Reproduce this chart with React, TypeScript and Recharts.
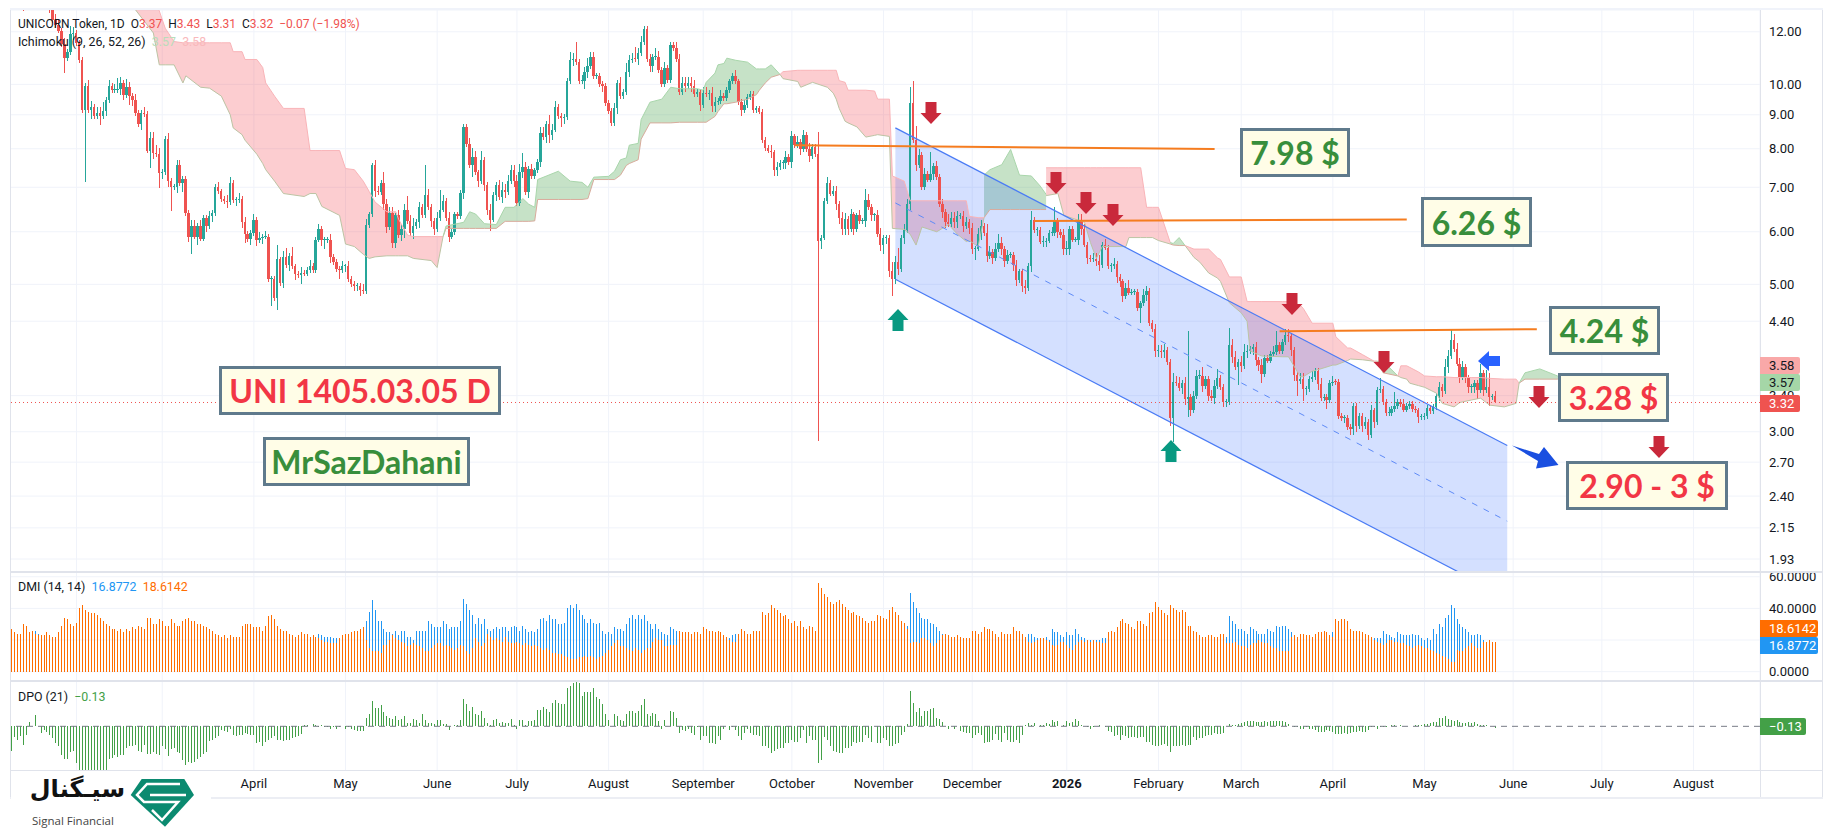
import React from "react";
import { ComposedChart, Bar, Line, Area, Cell, XAxis, YAxis, CartesianGrid, ReferenceLine } from "recharts";

// daily closes, open of a bar is the close before it
const closes = [
  15.2,14.9,15.4,14.7,14,13.8,14.3,14.9,15.3,14.8,
  14.4,14.1,13.9,13.6,12.5,12.3,12.05,11.5,10.95,11.2,
  11.9,11.95,11.55,10.87,9.15,9.95,9.15,9.25,8.95,9.05,
  8.97,9.13,9.47,9.95,9.8,9.8,9.83,10.05,9.65,9.9,
  9.6,9.47,9.05,8.72,9.05,9.03,7.95,8.3,7.87,7.85,
  7.35,7.38,8.27,7.15,7,7,7.55,7.1,7.2,6.4,
  5.9,6.12,5.9,6.12,5.86,6.3,6.12,6.33,6.4,7,
  6.9,6.72,6.68,6.65,7.1,6.7,6.7,6.73,6.2,5.95,
  5.85,5.97,6.26,5.83,5.87,5.9,5.9,5.1,5.1,4.77,
  5.45,5.03,5.5,5.35,5.52,5.32,5.18,5.16,5.2,5.19,
  5.25,5.33,5.26,5.84,6.05,5.83,5.83,5.83,5.5,5.4,
  5.28,5.25,5.32,5.32,5.09,5,4.98,4.98,4.9,4.88,
  6.15,6.37,7.55,6.9,6.88,7.1,6.6,6.1,6.4,5.78,
  6.35,5.93,6.05,6.47,6.23,5.97,6.12,6.2,6.53,6.35,
  6.82,6.53,6.23,6.05,6.3,6.48,6.67,6.3,5.9,6,
  6.37,6.33,6.87,8.63,8.14,7.55,7.78,7.37,7.15,7.7,
  7.05,6.48,6.26,6.82,7.05,6.77,6.93,6.88,7.15,7.42,
  7.15,6.62,7.37,7.5,6.88,7.45,7.28,7.42,7.65,8.45,
  8.32,8.72,8.4,8.55,9.25,8.95,8.9,8.93,10.13,10.87,
  10.93,10.82,10.13,10.13,10.42,10.65,10.98,10.3,10.3,10,
  9.95,9.38,9.12,8.75,9.2,10.05,9.6,9.75,10.45,10.87,
  10.93,10.9,11.13,11.58,12.1,10.9,10.66,11,11,10.5,
  10,10.6,10.15,11.45,11.35,10.9,9.75,10.05,9.95,10.05,
  9.95,9.68,9.75,9.3,9.7,9.68,9.7,9.28,9.4,9.45,
  9.62,9.55,9.8,10.1,10.3,10.1,9.4,9.15,9.3,9.58,
  9.68,9.15,9.2,9.1,8.24,8.02,7.95,7.9,7.44,7.5,
  7.62,7.62,7.77,7.63,8.35,8.1,8.2,8,8.38,8,
  7.8,8.05,7.85,5.82,5.88,6.67,7.1,6.85,6.9,6.6,
  6.3,6.05,6.28,6.05,6.37,6.06,6.35,6.23,6.23,6.7,
  6.53,6.35,6.35,5.95,5.73,5.87,5.88,5.24,5.1,5.4,
  5.27,5.87,6.04,6.6,9.36,8.24,7.55,7.83,7,7.33,
  7.19,7.33,7.53,7.25,6.6,6.43,6.2,6.16,6.3,6.2,
  6.33,6.33,6.12,6.2,6.07,5.66,5.66,5.95,6.13,5.98,
  5.52,5.6,5.47,5.65,5.77,5.65,5.42,5.53,5.53,5.34,
  5.08,5.23,4.97,4.94,5.33,6.26,6.04,6.04,5.8,5.8,
  5.82,5.98,5.98,6.23,6,5.93,5.65,5.65,6.06,5.84,
  5.84,6.26,6.05,5.74,5.48,5.46,5.46,5.43,5.35,5.73,
  5.68,5.33,5.33,5.37,5.13,5.05,4.8,4.93,4.86,4.87,
  4.87,4.6,4.68,4.82,4.88,4.37,4.28,3.97,3.97,3.95,
  3.98,3.82,3.15,3.57,3.55,3.49,3.55,3.36,3.38,3.23,
  3.39,3.64,3.64,3.51,3.6,3.4,3.37,3.52,3.62,3.5,
  3.33,3.33,4.05,3.89,3.75,3.82,3.77,3.95,3.97,4,
  4.02,3.85,3.78,3.66,3.88,3.84,3.93,3.96,4.05,3.97,
  4.1,4.2,4.18,3.98,3.65,3.58,3.6,3.48,3.48,3.6,
  3.63,3.7,3.54,3.37,3.38,3.35,3.55,3.57,3.56,3.17,
  3.15,3.15,3.05,3.03,3.28,3.06,3.17,3.06,3.1,2.97,
  3.23,3.1,3.47,3.48,3.33,3.2,3.2,3.25,3.28,3.33,
  3.3,3.24,3.28,3.3,3.25,3.23,3.16,3.16,3.17,3.26,
  3.22,3.27,3.4,3.5,3.45,3.75,3.9,4.12,4,3.8,
  3.63,3.76,3.62,3.5,3.5,3.55,3.47,3.68,3.47,3.5,
  3.38,3.39,3.32,
];

// wick length above / below the body, percent of price
const upperWicks = [
  3,2,4,2,3,4,2,3,2,4,3,2,3,4,2,2,2,1,2,1,
  3,2,1,1,1,1,2,2,1,2,2,3,1,2,1,2,4,2,1,3,
  2,1,2,1,1,2,1,2,2,3,2,1,1,2,1,1,2,2,1,1,
  1,2,2,1,2,1,1,2,1,1,2,1,1,2,2,1,1,2,1,2,
  1,1,2,1,2,1,2,1,1,1,5,1,2,3,1,3,1,1,2,1,
  1,2,1,1,2,1,1,1,2,1,1,1,2,1,2,1,1,1,1,2,
  2,1,1,2,2,1,4,2,2,2,1,2,2,2,5,2,3,1,2,1,
  11,2,1,1,2,7,2,1,2,1,1,1,1,1,1,2,3,2,1,3,
  1,1,2,1,1,2,3,2,2,2,2,2,3,5,2,1,2,1,1,2,
  2,1,3,2,2,1,1,1,1,3,2,6,1,2,2,3,2,2,1,1,
  1,1,1,1,2,1,2,1,3,2,2,4,2,2,1,1,2,1,3,2,
  1,2,1,1,1,2,2,2,2,2,2,2,1,1,2,2,1,2,2,1,
  2,1,1,1,1,2,1,1,2,1,1,1,1,1,1,1,1,2,1,2,
  1,1,2,1,2,1,2,1,2,1,2,1,1,8,1,1,2,1,2,2,
  1,2,2,1,2,1,1,2,1,4,2,1,1,2,2,1,1,1,3,2,
  5,1,2,2,6,8,5,2,1,2,1,8,1,2,1,2,1,3,2,2,
  2,1,2,2,1,2,1,2,2,1,3,2,1,2,3,2,1,2,1,1,
  2,1,1,2,1,3,1,1,1,2,1,1,2,5,1,1,2,3,1,1,
  1,2,2,2,1,1,2,2,2,1,2,1,1,2,1,1,1,2,3,1,
  1,1,1,2,2,1,1,2,2,2,2,1,1,3,2,2,1,2,26,1,
  2,2,2,3,1,1,2,2,3,1,1,1,6,2,2,1,2,3,2,1,
  1,2,1,2,1,1,1,2,5,1,1,2,2,1,1,1,2,2,1,1,
  2,1,1,2,1,1,1,2,1,1,1,1,1,1,1,1,1,1,2,1,
  2,1,1,4,1,1,2,1,5,1,1,2,1,1,1,1,1,1,1,1,
  1,1,1,2,1,3,2,4,2,2,2,2,1,1,1,1,1,3,1,6,
  5,1,2,
];
const lowerWicks = [
  15,2,2,3,8,2,2,3,2,2,2,3,2,6,1,1,1,1,5,1,
  1,2,1,1,1,22,1,3,1,1,3,1,2,1,1,1,1,2,2,1,
  3,2,1,1,2,1,1,6,2,1,5,2,1,2,8,1,2,1,3,1,
  2,6,1,3,1,1,2,1,2,1,1,1,1,2,1,1,2,1,2,3,
  1,2,1,2,1,2,1,1,9,1,4,1,2,1,2,1,2,1,3,1,
  1,1,1,1,1,2,3,1,2,1,1,3,1,2,1,1,2,2,2,1,
  1,1,1,2,1,1,2,2,1,2,2,1,2,3,1,1,2,1,2,1,
  1,1,2,2,1,1,1,1,2,1,1,1,1,2,1,1,4,1,2,1,
  2,2,4,1,2,1,2,2,1,1,2,1,1,2,1,2,1,1,1,2,
  1,2,3,2,1,1,3,2,1,1,2,1,1,1,3,2,1,1,1,1,
  2,1,1,1,1,2,1,1,1,2,1,1,2,1,1,1,2,2,1,1,
  1,1,1,1,1,1,1,1,2,1,2,1,1,2,1,1,2,2,2,1,
  1,1,1,1,1,1,1,2,1,1,1,1,1,1,1,1,1,2,2,2,
  1,2,2,1,2,1,1,2,1,1,2,1,1,50,3,1,1,1,1,2,
  2,2,2,2,1,2,1,1,1,2,1,2,2,1,2,3,2,2,6,2,
  2,1,2,1,2,1,2,1,1,1,1,1,2,1,1,2,2,1,1,2,
  2,1,2,1,2,2,4,1,2,1,2,1,2,1,1,2,2,1,1,2,
  2,1,2,2,1,2,1,2,1,2,2,1,1,1,2,1,2,2,2,1,
  1,2,2,1,2,1,1,2,2,1,1,1,2,1,2,2,2,1,1,1,
  1,1,5,1,2,1,1,2,2,2,2,1,3,8,1,1,2,2,6,2,
  1,1,1,2,1,2,1,2,1,1,2,2,1,2,1,6,2,1,2,1,
  2,2,2,3,1,1,1,1,1,1,1,1,2,2,2,5,1,4,2,1,
  1,1,2,1,1,3,1,1,1,1,1,2,1,2,2,2,1,2,1,2,
  1,2,1,1,1,1,1,1,1,1,1,1,1,1,1,1,2,1,1,1,
  1,1,1,2,2,1,2,1,1,1,2,1,2,2,2,2,3,1,2,1,
  3,1,0.3,
];

const minusDI = [
  27,25,24,24,30,29,25,26,24,23,23,23,25,23,22,22,25,29,34,33,
  30,29,31,40,42,39,38,37,37,36,34,32,30,29,27,27,26,27,25,27,
  26,28,27,29,28,27,34,34,30,30,33,32,29,29,33,31,29,29,32,33,
  34,32,32,30,30,29,28,27,26,24,23,22,23,21,23,22,22,22,29,30,
  30,30,28,28,28,26,29,35,36,33,29,27,26,26,24,23,22,23,25,24,
  24,22,23,22,21,20,19,19,18,18,18,21,23,24,24,25,26,26,27,28,
  20,15,13,13,13,12,17,17,20,23,21,20,19,18,16,17,18,17,16,15,
  13,13,15,17,18,18,16,17,16,15,14,15,17,16,13,11,15,21,19,16,
  18,24,22,20,21,20,19,22,19,18,18,19,18,17,18,17,16,17,16,15,
  14,15,14,12,12,11,11,10,9,8,8,8,9,9,10,9,10,9,8,9,
  10,12,14,16,18,20,16,16,15,14,13,15,14,12,14,15,15,19,21,20,
  20,16,16,17,17,17,26,25,25,25,24,25,25,24,28,27,26,26,25,26,
  25,23,22,20,19,19,24,27,26,24,24,26,26,26,38,36,37,42,40,39,
  37,35,36,33,31,32,29,32,28,27,29,28,26,56,53,49,47,44,43,44,
  45,43,41,39,37,38,36,35,34,32,31,32,32,36,35,34,33,39,41,38,
  36,32,31,27,18,19,19,18,21,21,20,18,16,18,20,23,24,23,22,22,
  23,22,21,21,21,26,26,24,25,28,27,27,26,24,22,25,24,24,24,28,
  26,26,24,22,19,18,19,20,21,21,20,19,17,16,17,19,19,17,15,14,
  17,19,20,19,20,19,20,19,19,18,18,25,26,25,28,32,33,31,30,28,
  27,32,32,30,29,37,38,44,41,39,37,36,42,40,39,38,39,38,29,29,
  26,25,23,22,22,23,23,22,22,24,24,18,18,18,19,17,16,16,15,17,
  18,18,20,19,18,18,16,15,15,13,13,13,13,22,23,22,24,24,23,23,
  22,24,25,25,26,25,23,22,33,32,33,33,32,27,26,26,26,25,24,23,
  22,20,19,18,17,18,20,20,19,19,18,18,17,16,15,16,17,16,15,15,
  14,13,12,11,10,9,8,6,6,14,13,13,15,16,18,16,15,15,19,19,
  20,19,18.61,
];
const plusDI = [
  18,18,19,20,22,23,22,24,26,24,22,21,20,21,20,19,20,21,20,19,
  19,18,17,17,16,16,15,15,15,14,14,14,13,13,14,15,14,15,14,14,
  14,15,15,16,15,15,14,14,15,14,14,14,15,16,14,14,15,15,14,13,
  14,14,15,15,15,16,16,17,17,18,18,19,19,20,19,20,20,20,17,17,
  17,17,17,18,18,19,18,16,15,15,16,17,18,18,19,19,20,20,20,20,
  20,20,21,20,24,23,22,22,22,21,21,21,22,20,20,20,21,21,21,24,
  32,38,45,39,32,32,27,25,25,24,26,23,26,26,22,22,20,26,26,26,
  26,32,30,28,28,28,32,30,27,28,28,28,32,46,43,39,36,30,34,30,
  33,27,26,27,28,27,28,28,26,28,29,28,26,29,27,25,26,25,27,33,
  34,32,36,33,33,30,30,31,40,42,40,43,39,36,33,31,33,31,30,31,
  26,24,25,24,28,27,27,26,30,34,36,33,36,33,36,32,30,27,30,27,
  25,24,23,28,27,26,22,22,22,21,21,21,20,20,21,20,19,20,20,19,
  20,19,19,21,23,24,22,20,20,20,19,19,19,19,15,15,14,14,13,13,
  13,13,12,12,12,12,12,12,13,13,13,14,14,12,12,12,13,13,14,14,
  14,14,15,15,15,15,15,14,14,14,15,15,15,16,16,16,16,14,14,14,
  14,15,16,29,50,44,40,37,34,33,33,31,30,28,26,24,22,21,21,20,
  20,20,19,19,19,19,18,18,18,19,19,18,18,18,19,18,18,18,19,18,
  18,17,17,17,24,24,22,21,20,21,22,20,27,25,25,23,22,25,23,23,
  27,24,22,21,20,20,20,20,20,21,21,19,19,19,20,20,20,20,19,19,
  18,18,18,18,17,17,17,16,17,17,17,16,17,17,17,17,17,17,18,18,
  19,19,19,20,20,20,20,21,21,21,22,22,35,32,30,27,27,26,24,28,
  27,26,24,24,24,27,26,25,29,28,29,29,27,25,20,20,21,21,21,22,
  22,22,22,22,22,22,22,25,21,21,21,22,22,22,22,22,22,22,21,21,
  21,21,21,21,26,24,23,22,21,25,24,23,23,23,24,23,23,21,20,21,
  20,27,24,30,28,34,36,42,40,33,30,28,27,25,23,23,24,23,20,19,
  18,17,16.88,
];

const dpo = [
  -2.2,-1,-1.2,-.9,-1.7,-.8,.4,0,1,0,-.6,-.3,-.5,-.8,-1.1,-1.5,-1.8,-2.6,-3,-3,
  -2.3,-2.2,-3.3,-4.3,-4.3,-4.3,-4.3,-4.3,-4.3,-4.3,-4.3,-4.3,-4.3,-3,-2.9,-2.6,-2.8,-2.6,-2.6,-2,
  -1.8,-1.8,-1.7,-2.2,-2.3,-1.7,-2.5,-2.5,-2.3,-2.5,-2.6,-1.8,-2.1,-2.7,-2.1,-2,-2.3,-2.4,-3.1,-3.5,
  -3.2,-3.3,-3.2,-3,-2.8,-2.5,-2.3,-1.3,-1.2,-1.1,-.9,-.3,-.4,-.5,-.2,-.8,-.9,-.8,-.8,-.6,
  -.7,-.8,-.8,-1.5,-1.4,-1.8,-1.4,-1.2,-1.1,-.9,-1.2,-1.2,-1.3,-1.2,-1.2,-1.1,-1,-.9,-.7,.1,
  .1,0,.2,.1,-.1,.1,-.1,-.1,-.2,-.1,-.2,-.1,0,-.2,-.1,-.2,-.3,-.4,-.4,-.4,
  .8,1.1,2.3,1.7,1.7,1.9,1.3,.9,.8,.7,.9,.6,.7,.9,.3,.3,.7,.6,.3,1.1,
  .6,.3,.3,.2,.6,.6,.2,.2,-.3,0,.1,.1,.6,2.5,2,1.4,1.8,1.1,1,1.4,
  .8,.3,.1,.6,.7,.3,.4,.3,.3,.7,.1,-.2,.6,.6,.1,.5,.5,.6,1.5,1.5,
  1.8,1.6,1.3,2.1,2.4,2.1,2,2,3.5,3.7,3.9,4.1,3.9,2.8,3.1,3.1,3.1,3.5,2.7,2.5,
  2,1.1,.6,0,1.1,.9,.6,.5,1.1,1.4,1.4,1.2,1.4,1.9,2.5,1.1,.9,1.2,1.1,.5,
  -.2,.6,0,1.4,1.3,.8,-.6,-.3,-.4,-.2,-.6,-.8,-.1,-1.2,-.9,-.9,-1.5,-1.5,-1.6,-.9,
  -1.2,-.2,0,-.3,-.1,-.3,-.9,-1.2,-.6,-.2,-.6,-.8,-.8,-.9,-1.8,-1.8,-2,-2.4,-2.2,-2.1,
  -2,-2,-1.5,-1.5,-1.2,-1.4,-1.4,-1.1,-.3,-1.5,-.9,-1.2,-1.2,-3.3,-3.1,-1,-1.2,-1.8,-2.2,-2.3,
  -2.4,-2.4,-2,-2,-1.8,-1.4,-1.5,-1.4,-1.4,-.8,-1.1,-1.4,0,-1.5,-1.5,-1.1,-1.2,-1.8,-1.8,-1.6,
  -1.5,-.8,-.5,.2,3.2,2.1,1.3,1.7,.9,1.4,1.4,1.6,1.7,.8,.7,.4,0,-.2,0,-.2,
  0,-.4,-.5,-.6,-.6,-1.1,-.8,-.6,-.8,-1.5,-1.4,-1.4,-1.2,-.7,-1.2,-1.4,-.6,-1.2,-1.4,-1.4,
  -1.2,-1.5,-.8,.1,.3,.1,.3,0,.1,.1,.3,.2,.6,.4,.5,0,.1,.5,.3,.4,
  .7,.5,.1,0,-.1,-.2,-.1,0,.1,0,-.1,-.4,-.5,-.9,-.8,-1.2,-.8,-.9,-1.1,-1,
  -1,-1.1,-1,-1,-1.4,-1.4,-1.7,-1.8,-1.8,-1.7,-1.6,-1.8,-2.3,-1.8,-1.8,-1.8,-1.7,-1.8,-1.7,-1.7,
  -1,-1.2,-1.1,-1.1,-.9,-.8,-.8,-.6,-.7,-.7,-.6,0,.2,.1,.1,.2,.3,.4,.5,.5,
  .5,.4,.4,.4,.5,.4,.5,.5,.5,.5,.5,.4,.2,0,-.1,-.1,-.2,-.2,-.1,-.2,
  -.2,-.3,-.5,-.5,-.5,-.3,-.4,-.5,-.7,-.7,-.7,-.6,-.7,-.6,-.5,-.5,-.4,-.5,-.5,-.3,
  -.1,-.1,-.2,-.1,-.1,-.1,0,.1,.1,0,.1,0,0,0,0,.1,.1,.1,.2,.2,
  .3,.4,.4,.8,.8,.9,.7,.6,.5,.6,.4,.3,.3,.4,.3,.4,.2,.1,.1,.1,
  0,0,-.13,
];

// ichimoku cloud, read as corner points per coloured stretch
const redCloudA = {
  idx: [42,48,50,52,55,58,59,64,67,71,74,75,78,79,83,85,86,89,92,99,101,103,105,111,113,116,119,121,123,127,130,131,134,136,142,144,146],
  lower: [12.94,11.95,10.7,10.7,10.7,10.05,10.3,9.9,9.87,9.6,9,8.6,8.4,8.24,7.85,7.6,7.44,7.15,6.85,6.78,6.85,6.85,6.55,6.35,5.75,5.7,5.55,5.47,5.5,5.52,5.52,5.52,5.52,5.47,5.43,5.3,5.9],
  upper: [14,13.6,12.9,12.15,11.6,11.55,11.55,11.55,11.55,11.55,11.55,11.2,11.2,10.9,10.9,10.6,10.05,9.6,9.2,9.2,7.95,7.95,7.95,7.95,7.47,7.44,7.15,6.9,6.65,6.43,6.43,6.26,5.93,5.9,5.9,5.9,5.9],
};
const greenCloudA = {
  idx: [146,147,153,155,157,160,164,167,170,173,175,177,178,185,189,193,195,197,202,204,206,208,209,212,213,216,220,223,226,232,234,235,238,239,241,242,245,249,252,253,255,257,260],
  lower: [5.9,6.07,6.07,6.07,6.07,6.07,6.07,6.22,6.22,6.22,6.22,6.23,6.71,6.71,6.71,6.71,6.73,7.19,7.19,7.19,7.3,7.55,7.6,7.7,8.27,8.75,8.75,8.75,8.77,8.77,8.77,8.77,8.95,9.1,9.35,9.35,9.4,9.5,9.65,9.8,10.05,10.25,10.35],
  upper: [5.9,6.12,6.2,6.43,6.38,6.17,6.15,6.53,6.53,6.73,6.6,6.53,7.19,7.4,7.15,7.12,7,7.25,7.27,7.4,7.7,7.75,8.1,8.15,8.85,9.4,9.5,9.9,9.85,9.85,9.8,10.07,10.4,10.7,10.75,10.95,10.87,10.8,10.55,10.55,10.55,10.7,10.35],
};
const redCloudB = {
  idx: [260,261,266,267,271,276,278,279,280,282,283,286,289,292,293,297,298,302,304,306,308,313,317,320,323,324,327,329],
  lower: [10.35,10.2,10.1,9.9,10.07,9.9,9.7,9.5,9.2,8.8,8.75,8.63,8.33,8.38,8.4,8.35,6.07,6.05,5.95,5.73,6.1,6,6.15,5.95,5.8,5.82,5.7,6.3],
  upper: [10.35,10.45,10.5,10.5,10.5,10.5,10.5,10.5,10.13,10.07,9.8,9.8,9.8,9.77,9.5,9.5,7.28,7.15,6.68,6.68,6.68,6.68,6.68,6.68,6.68,6.33,6.3,6.3],
};
const greenCloudB = {
  idx: [329,331,335,338,341,345,348,350],
  lower: [6.3,6.48,6.48,6.48,6.48,6.48,6.48,6.48],
  upper: [7.3,7.44,7.57,7.98,7.3,7.28,7.03,6.83],
};
const redCloudC = {
  idx: [350,354,356,363,365,367,369,375,377,378,382,384,386,388,392],
  lower: [6.8,6.85,6.35,6.2,5.78,5.47,5.7,5.7,5.7,5.88,5.88,5.88,5.88,5.82,5.75],
  upper: [7.49,7.49,7.49,7.49,7.49,7.49,7.49,7.49,7.49,7.49,7.49,6.53,6.53,6.53,5.78],
};
const greenCloudC = { idx: [392,393,395,397], lower: [5.75,5.73,5.72,5.72], upper: [5.78,5.76,5.88,5.72] };
const redCloudD = {
  idx: [397,400,402,405,408,409,412,416,418,419,423,430,432,436,437,440,442,447,448,452,453,457,461,462],
  lower: [5.72,5.49,5.4,5.2,5.11,5.05,4.69,4.53,4.4,3.97,3.9,3.89,3.89,3.63,3.63,3.7,3.72,3.78,3.78,3.84,3.86,3.85,3.83,3.83],
  upper: [5.72,5.65,5.65,5.65,5.48,5.45,5.13,5.13,4.71,4.71,4.71,4.71,4.71,4.65,4.6,4.37,4.37,4.37,4.17,4.01,4.01,3.92,3.83,3.83],
};
const greenCloudD = { idx: [462,464,469], lower: [3.83,3.68,3.64], upper: [3.83,3.83,3.64] };
const redCloudE = {
  idx: [469,470,472,473,476,478,482,484,488,490,494,497,500,505,509,510],
  lower: [3.64,3.62,3.6,3.55,3.52,3.5,3.43,3.31,3.27,3.32,3.35,3.37,3.29,3.27,3.31,3.55],
  upper: [3.64,3.77,3.77,3.75,3.69,3.64,3.63,3.63,3.62,3.62,3.62,3.62,3.61,3.6,3.6,3.55],
};
const greenCloudE = { idx: [510,512,517,523,527], lower: [3.55,3.6,3.6,3.6,3.58], upper: [3.55,3.68,3.73,3.64,3.58] };

const cloudStretches = [
  { colour: "red", ...redCloudA }, { colour: "green", ...greenCloudA },
  { colour: "red", ...redCloudB }, { colour: "green", ...greenCloudB },
  { colour: "red", ...redCloudC }, { colour: "green", ...greenCloudC },
  { colour: "red", ...redCloudD }, { colour: "green", ...greenCloudD },
  { colour: "red", ...redCloudE }, { colour: "green", ...greenCloudE },
];

// drawing tools on the price pane
const channelIdx = [299, 506];
const channelTop = [8.6, 2.86];
const channelMid = [6.63, 2.2];
const channelBottom = [5.09, 1.69];
const trendIdx = [[265, 407], [346, 472], [429, 516]];
const trendPrices = [[8.1, 7.99], [6.23, 6.26], [4.25, 4.28]];

const priceTicks = [12, 10, 9, 8, 7, 6, 5, 4.4, 3.4, 3, 2.7, 2.4, 2.15, 1.93];
const dmiTicks = [0, 20, 40, 60];
const monthGrid = [22, 51, 82, 113, 144, 171, 202, 234, 264, 295, 325, 357, 388, 416, 447, 478, 508, 538, 569];
const monthTicks = [82, 113, 144, 171, 202, 234, 264, 295, 325, 357, 388, 416, 447, 478, 508, 538, 569];
const monthNames = ["April", "May", "June", "July", "August", "September", "October", "November", "December", "2026", "February", "March", "April", "May", "June", "July", "August"];

const ROWS = 592;
const UP = "#26a69a";
const DOWN = "#ef5350";
const GRID = "#f0f3fa";
const LINE = "#e0e3eb";
const INK = "#131722";
const UI_FONT = "Roboto, sans-serif";

const table = Array.from({ length: ROWS }, (_, i) => {
  const row: any = { i };
  if (i < closes.length) {
    const close = closes[i];
    const open = i === 0 ? close : closes[i - 1];
    const top = Math.max(open, close);
    const bottom = Math.min(open, close);
    row.body = [bottom, top];
    row.wick = [bottom * (1 - lowerWicks[i] / 100), top * (1 + upperWicks[i] / 100)];
    row.up = close >= open;
    row.plus = plusDI[i];
    row.minus = minusDI[i];
    row.dpo = dpo[i];
  }
  return row;
});
cloudStretches.forEach((c, s) => {
  c.idx.forEach((at, k) => {
    table[at][`cloud${s}`] = [c.lower[k], c.upper[k]];
    table[at][`lo${s}`] = c.lower[k];
    table[at][`hi${s}`] = c.upper[k];
  });
});
channelIdx.forEach((at, k) => {
  table[at].channel = [channelBottom[k], channelTop[k]];
  table[at].chTop = channelTop[k];
  table[at].chMid = channelMid[k];
  table[at].chBottom = channelBottom[k];
});
trendIdx.forEach((pair, t) => {
  pair.forEach((at, k) => {
    table[at][`trend${t}`] = trendPrices[t][k];
  });
});

const downArrows = [[931, 113], [1056, 183], [1086, 203], [1113, 215], [1292, 304], [1384, 362], [1539, 397], [1659, 447]];
const upArrows = [[898, 320], [1171, 451]];

function arrowPoints(cx: number, cy: number, dir: number) {
  return [
    [cx - 5.5, cy - 11 * dir], [cx + 5.5, cy - 11 * dir], [cx + 5.5, cy], [cx + 10.5, cy],
    [cx, cy + 11 * dir], [cx - 10.5, cy], [cx - 5.5, cy],
  ].map((p) => p.join(",")).join(" ");
}

function Note({ left, top, width, height, color, children }: any) {
  return (
    <div style={{
      position: "absolute", left, top, width, height, boxSizing: "border-box",
      border: "3px solid #5f7a8c", background: "#fffde7", color,
      display: "flex", alignItems: "center", justifyContent: "center",
      font: `700 32px Lato, sans-serif`, whiteSpace: "nowrap",
    }}>{children}</div>
  );
}

function Tag({ top, width = 40, bg, color = "#fff", children }: any) {
  return (
    <div style={{
      position: "absolute", left: 1760, top, width, height: 17, background: bg, color,
      font: `13px ${UI_FONT}`, lineHeight: "17px", paddingLeft: 9, boxSizing: "border-box", borderRadius: "0 2px 2px 0",
    }}>{children}</div>
  );
}

function Rule({ left, top, width, height, color = LINE }: any) {
  return <div style={{ position: "absolute", left, top, width, height, background: color }} />;
}

function MonthTick({ x, y, payload }: any) {
  const name = monthNames[monthTicks.indexOf(payload.value)];
  return (
    <text x={x} y={y} dy={4} textAnchor="middle" fontSize={13} fontFamily={UI_FONT} fill={INK} fontWeight={name === "2026" ? 700 : 400}>
      {name}
    </text>
  );
}

const tickStyle = { fontSize: 13, fontFamily: UI_FONT, fill: INK };
const titleStyle: React.CSSProperties = { position: "absolute", left: 18, font: `12.4px ${UI_FONT}`, color: INK, whiteSpace: "pre" };

export default function App() {
  return (
    <div style={{ position: "absolute", left: 0, top: 0, width: 1833, height: 833, background: "#fff", overflow: "hidden" }}>
      {/* price pane */}
      <div style={{ position: "absolute", left: 10, top: 10 }}>
        <ComposedChart width={1812} height={562} data={table} margin={{ top: 0, right: 0, bottom: 0, left: 0 }}>
          <XAxis xAxisId="wick" dataKey="i" hide allowDataOverflow ticks={monthGrid} interval={0} />
          <XAxis xAxisId="body" dataKey="i" hide allowDataOverflow />
          <YAxis orientation="right" width={62} scale="log" domain={[1.845, 12.94]} allowDataOverflow ticks={priceTicks} interval={0}
            tick={tickStyle} tickFormatter={(v: number) => v.toFixed(2)} tickLine={false} axisLine={false} tickSize={1} tickMargin={8} />
          <CartesianGrid xAxisId="wick" stroke={GRID} />
          {cloudStretches.map((c, s) => (
            <Area key={`c${s}`} xAxisId="wick" dataKey={`cloud${s}`} type="linear" connectNulls stroke="none" dot={false} activeDot={false}
              fill={c.colour === "red" ? "rgba(242,54,69,0.25)" : "rgba(67,160,71,0.30)"} fillOpacity={1} isAnimationActive={false} />
          ))}
          {cloudStretches.map((c, s) => (
            <Line key={`l${s}`} xAxisId="wick" dataKey={`lo${s}`} type="linear" connectNulls dot={false} activeDot={false} strokeWidth={1}
              stroke={c.colour === "red" ? "#bcc4a4" : "#d8ab9c"} isAnimationActive={false} />
          ))}
          {cloudStretches.map((c, s) => (
            <Line key={`h${s}`} xAxisId="wick" dataKey={`hi${s}`} type="linear" connectNulls dot={false} activeDot={false} strokeWidth={1}
              stroke={c.colour === "red" ? "#f9b4b8" : "#a9d6ab"} isAnimationActive={false} />
          ))}
          <Bar xAxisId="wick" dataKey="wick" barSize={1} shapeRendering="crispEdges" isAnimationActive={false}>
            {table.map((r) => <Cell key={r.i} fill={r.up ? UP : DOWN} />)}
          </Bar>
          <Bar xAxisId="body" dataKey="body" barSize={2.4} minPointSize={1} shapeRendering="crispEdges" isAnimationActive={false}>
            {table.map((r) => <Cell key={r.i} fill={r.up ? UP : DOWN} />)}
          </Bar>
          <Area xAxisId="wick" dataKey="channel" type="linear" connectNulls stroke="none" dot={false} activeDot={false}
            fill="rgba(41,98,255,0.2)" fillOpacity={1} isAnimationActive={false} />
          <Line xAxisId="wick" dataKey="chTop" type="linear" connectNulls dot={false} activeDot={false} stroke="#4a7bf5" strokeWidth={1.2} isAnimationActive={false} />
          <Line xAxisId="wick" dataKey="chBottom" type="linear" connectNulls dot={false} activeDot={false} stroke="#4a7bf5" strokeWidth={1.2} isAnimationActive={false} />
          <Line xAxisId="wick" dataKey="chMid" type="linear" connectNulls dot={false} activeDot={false} stroke="#5f8bf7" strokeWidth={1} strokeDasharray="6 7" isAnimationActive={false} />
          {trendIdx.map((_, t) => (
            <Line key={`t${t}`} xAxisId="wick" dataKey={`trend${t}`} type="linear" connectNulls dot={false} activeDot={false} stroke="#f57c1f" strokeWidth={2} isAnimationActive={false} />
          ))}
          <ReferenceLine xAxisId="wick" y={3.32} stroke="#ef5350" strokeDasharray="1 3" />
        </ComposedChart>
      </div>

      {/* DMI pane */}
      <div style={{ position: "absolute", left: 10, top: 572 }}>
        <ComposedChart width={1812} height={109} data={table} margin={{ top: 0, right: 0, bottom: 0, left: 0 }}>
          <XAxis xAxisId="plus" dataKey="i" hide ticks={monthGrid} interval={0} />
          <XAxis xAxisId="minus" dataKey="i" hide />
          <YAxis orientation="right" width={62} domain={[-5.9, 63]} allowDataOverflow ticks={dmiTicks} interval={0}
            tick={tickStyle} tickFormatter={(v: number) => v.toFixed(4)} tickLine={false} axisLine={false} tickSize={1} tickMargin={8} />
          <CartesianGrid xAxisId="plus" stroke={GRID} />
          <Bar xAxisId="plus" dataKey="plus" barSize={1} shapeRendering="crispEdges" fill="#2196f3" isAnimationActive={false} />
          <Bar xAxisId="minus" dataKey="minus" barSize={1} shapeRendering="crispEdges" fill="#ff6d00" isAnimationActive={false} />
        </ComposedChart>
      </div>

      {/* DPO pane with the time axis */}
      <div style={{ position: "absolute", left: 10, top: 681 }}>
        <ComposedChart width={1812} height={117} data={table} margin={{ top: 0, right: 0, bottom: 0, left: 0 }}>
          <XAxis dataKey="i" height={28} ticks={monthTicks} interval={0} tick={<MonthTick />} tickLine={false} axisLine={false} tickMargin={8} />
          <XAxis xAxisId="grid" dataKey="i" hide ticks={monthGrid} interval={0} />
          <YAxis orientation="right" width={62} domain={[-3.97, 4.12]} allowDataOverflow tick={false} tickLine={false} axisLine={false} />
          <CartesianGrid xAxisId="grid" stroke={GRID} horizontal={false} />
          <ReferenceLine y={0} stroke="#787b86" strokeDasharray="6 5" />
          <Bar dataKey="dpo" barSize={1} shapeRendering="crispEdges" fill="#43a047" isAnimationActive={false} />
        </ComposedChart>
      </div>

      {/* frame */}
      <Rule left={10} top={8} width={1813} height={2} color="#f0f3fa" />
      <Rule left={10} top={10} width={1} height={788} />
      <Rule left={1822} top={10} width={1} height={788} />
      <Rule left={1760} top={10} width={1} height={788} />
      <Rule left={10} top={571} width={1812} height={2} />
      <Rule left={10} top={680} width={1812} height={2} />
      <Rule left={10} top={770} width={1812} height={1} />
      <Rule left={10} top={797} width={1813} height={2} color="#eceef4" />

      {/* pane titles */}
      <div style={{ ...titleStyle, top: 17, fontSize: 12 }}>
        UNICORN Token, 1D  O<span style={{ color: "#ef5350" }}>3.37</span>  H<span style={{ color: "#ef5350" }}>3.43</span>  L<span style={{ color: "#ef5350" }}>3.31</span>  C<span style={{ color: "#ef5350" }}>3.32</span>  <span style={{ color: "#ef5350" }}>−0.07 (−1.98%)</span>
      </div>
      <div style={{ ...titleStyle, top: 34 }}>
        Ichimoku (9, 26, 52, 26)  <span style={{ color: "#b9dcba" }}>3.57</span>  <span style={{ color: "#f9b9bc" }}>3.58</span>
      </div>
      <div style={{ ...titleStyle, top: 579 }}>
        DMI (14, 14)  <span style={{ color: "#2196f3" }}>16.8772</span>  <span style={{ color: "#ff6d00" }}>18.6142</span>
      </div>
      <div style={{ ...titleStyle, top: 689 }}>
        DPO (21)  <span style={{ color: "#43a047" }}>−0.13</span>
      </div>

      {/* price scale tags */}
      <Tag top={357} bg="#f9a8a8" color={INK}>3.58</Tag>
      <Tag top={374} bg="#a5d6a7" color={INK}>3.57</Tag>
      <Tag top={395} bg="#ef5350">3.32</Tag>
      <Tag top={620} width={58} bg="#ff6d00">18.6142</Tag>
      <Tag top={637} width={58} bg="#2196f3">16.8772</Tag>
      <Tag top={718} width={46} bg="#43a047">−0.13</Tag>

      {/* arrows */}
      <svg width={1833} height={833} style={{ position: "absolute", left: 0, top: 0, pointerEvents: "none" }}>
        {downArrows.map(([x, y]) => <polygon key={x} points={arrowPoints(x, y, 1)} fill="#c9293b" />)}
        {upArrows.map(([x, y]) => <polygon key={x} points={arrowPoints(x, y, -1)} fill="#089981" />)}
        <polygon points="1478,361 1489,351 1489,356 1500,356 1500,366 1489,366 1489,371" fill="#2962ff" />
        <polygon points="1512,445.5 1539,454 1544,447 1558.5,465 1536,468.5 1538,461" fill="#1a4fe0" />
      </svg>

      {/* notes */}
      <Note left={1240} top={128} width={110} height={49} color="#388e3c">7.98 $</Note>
      <Note left={1421} top={197} width={111} height={50} color="#388e3c">6.26 $</Note>
      <Note left={1549} top={306} width={111} height={49} color="#388e3c">4.24 $</Note>
      <Note left={1558} top={373} width={111} height={49} color="#f23645">3.28 $</Note>
      <Note left={1566} top={461} width={162} height={49} color="#f23645">2.90 - 3 $</Note>
      <Note left={219} top={366} width={282} height={49} color="#f23645">UNI 1405.03.05 D</Note>
      <Note left={263} top={437} width={207} height={49} color="#388e3c">MrSazDahani</Note>

      {/* logo */}
      <div style={{ position: "absolute", left: 11, top: 771, width: 200, height: 62, background: "#fff" }} />
      <div style={{ position: "absolute", left: 33, top: 775, width: 92, textAlign: "center", font: `700 24px "DejaVu Sans", sans-serif`, color: "#111", direction: "rtl", whiteSpace: "nowrap" }}>سیـگنال</div>
      <div style={{ position: "absolute", left: 32, top: 813, font: `11.5px "Open Sans", sans-serif`, color: "#444" }}>Signal Financial</div>
      <svg width={1833} height={833} style={{ position: "absolute", left: 0, top: 0, pointerEvents: "none" }}>
        <polygon points="130.7,795 141.7,779 184.3,779 194,795 165,826.7" fill="#0b8a70" />
        <polyline points="180,784 147,784 137,795 144,802 178,802 162,820 152,810" fill="none" stroke="#fff" strokeWidth={2.5} />
        <polyline points="186,795 150,795" fill="none" stroke="#fff" strokeWidth={2.5} />
      </svg>
    </div>
  );
}
